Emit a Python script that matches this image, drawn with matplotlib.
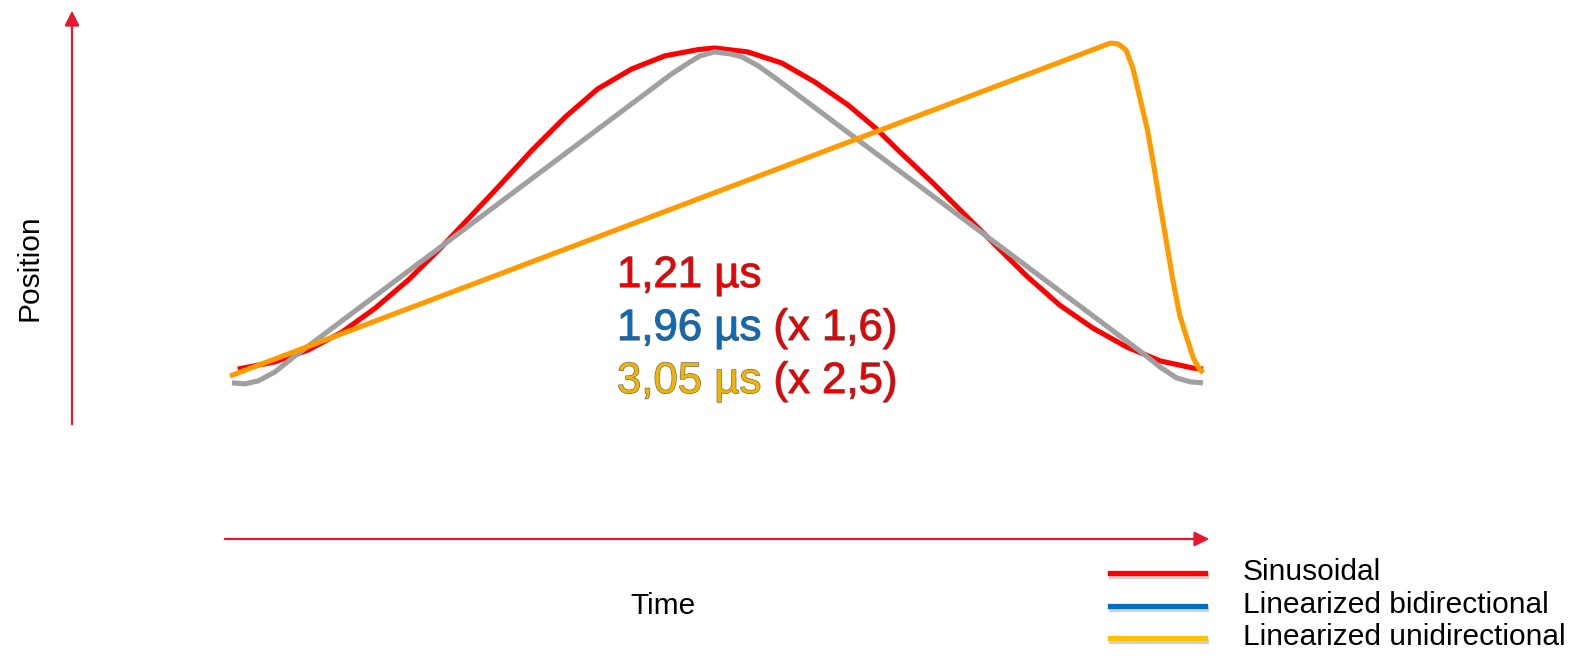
import matplotlib
matplotlib.use("Agg")
from matplotlib import pyplot as plt
from matplotlib import patheffects as pe

plt.rcParams['font.family'] = ['Liberation Sans', 'DejaVu Sans']

# curves: normalised time (0..1) and position (0..1)
sin_t = [0.008, 0.046, 0.080, 0.115, 0.149, 0.183, 0.217, 0.251, 0.275, 0.310, 0.344,
         0.377, 0.412, 0.446, 0.480, 0.497, 0.531, 0.566, 0.600, 0.634, 0.662, 0.685,
         0.720, 0.754, 0.783, 0.817, 0.851, 0.885, 0.920, 0.954, 0.988, 0.998]
sin_p = [0.018, 0.040, 0.076, 0.131, 0.204, 0.290, 0.390, 0.497, 0.573, 0.686, 0.787,
         0.872, 0.933, 0.973, 0.992, 0.997, 0.985, 0.951, 0.893, 0.823, 0.753, 0.686,
         0.588, 0.488, 0.402, 0.302, 0.213, 0.143, 0.085, 0.043, 0.021, 0.018]

bidir_t = [0.002, 0.015, 0.029, 0.046, 0.064, 0.453, 0.470, 0.482, 0.497, 0.513, 0.525,
           0.542, 0.559, 0.936, 0.954, 0.971, 0.985, 0.998]
bidir_p = [-0.024, -0.027, -0.018, 0.009, 0.052, 0.918, 0.951, 0.973, 0.985, 0.979, 0.970,
           0.942, 0.906, 0.067, 0.024, -0.009, -0.021, -0.024]

unidir_t = [0.000, 0.903, 0.911, 0.919, 0.926, 0.933, 0.941, 0.947, 0.954, 0.961, 0.967,
            0.974, 0.982, 0.988, 0.993, 0.998]
unidir_p = [-0.003, 1.012, 1.009, 0.991, 0.936, 0.848, 0.747, 0.646, 0.518, 0.396, 0.290,
            0.183, 0.107, 0.052, 0.024, 0.006]

curve_colors = ['#FF0000', '#A0A0A0', '#FF9B00']

# annotation text
time_lines = [
    [("1,21 µs", '#EE0000')],
    [("1,96 µs ", '#0A6CB8'), ("(x 1,6)", '#EE0000')],
    [("3,05 µs ", '#F2B400'), ("(x 2,5)", '#EE0000')],
]

legend_labels = ["Sinusoidal", "Linearized bidirectional", "Linearized unidirectional"]
legend_colors = ['#FF0000', '#0070C0', '#FFC000']

W, H = 1570, 658
fig = plt.figure(figsize=(W / 100, H / 100), dpi=100)

# axes spanning the whole figure; data (0,0)-(1,1) maps onto the plot area
ax = fig.add_axes([0, 0, 1, 1])
x0, x1 = 230, 1205
y0, y1 = 283, 611  # from bottom
ax.set_xlim(-x0 / (x1 - x0), (W - x0) / (x1 - x0))
ax.set_ylim(-y0 / (y1 - y0), (H - y0) / (y1 - y0))
ax.axis('off')

for t, p, c in zip([sin_t, bidir_t, unidir_t], [sin_p, bidir_p, unidir_p], curve_colors):
    ax.plot(t, p, color=c, lw=3.7, solid_joinstyle='round', solid_capstyle='butt')

# axis arrows
arrow_col = '#E8162E'
fig_tr = fig.transFigure
ax.annotate('', xy=(72 / W, 1 - 8 / H), xytext=(72 / W, 1 - 427 / H),
            xycoords=fig_tr, textcoords=fig_tr,
            arrowprops=dict(arrowstyle='-|>', color=arrow_col, lw=1.6, mutation_scale=22))
ax.annotate('', xy=(1212 / W, 1 - 539 / H), xytext=(222 / W, 1 - 539 / H),
            xycoords=fig_tr, textcoords=fig_tr,
            arrowprops=dict(arrowstyle='-|>', color=arrow_col, lw=1.6, mutation_scale=22))

fig.text(30 / W, 1 - 268 / H, "Position", rotation=90, ha='center', va='center', fontsize=21.5)
fig.text(663 / W, 1 - 606 / H, "Time", ha='center', va='center', fontsize=21.5)

outline = [pe.withStroke(linewidth=0.9, foreground='#666666')]
line_y = [287, 340, 393]
for parts, yb in zip(time_lines, line_y):
    prev = None
    for txt, col in parts:
        if prev is None:
            prev = fig.text(617 / W, 1 - yb / H, txt, color=col, fontsize=31.5,
                            ha='left', va='baseline', path_effects=outline)
        else:
            prev = ax.annotate(txt, xy=(1, 0), xycoords=prev, color=col, fontsize=31.5,
                               ha='left', va='bottom', path_effects=outline)

# legend
leg_y = [573, 606, 638]
shadow = [pe.SimpleLineShadow(offset=(0.5, -2.5), shadow_color='#808080', alpha=0.35),
          pe.Normal()]
for lab, col, yy in zip(legend_labels, legend_colors, leg_y):
    fig.add_artist(plt.Line2D([1110 / W, 1205 / W], [1 - yy / H, 1 - yy / H],
                              transform=fig_tr, color=col, lw=3.8, path_effects=shadow))
    fig.text(1243 / W, 1 - (yy - 1) / H, lab, ha='left', va='center', fontsize=21.5)

fig.savefig("out.png", dpi=100)
